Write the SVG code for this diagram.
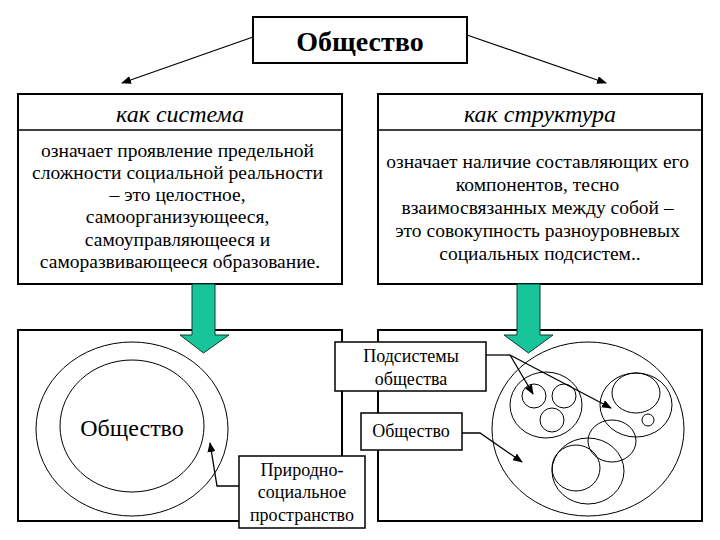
<svg xmlns="http://www.w3.org/2000/svg" width="720" height="540" viewBox="0 0 720 540">
<style>
text{font-family:'Liberation Serif','DejaVu Serif','Times New Roman',serif;fill:#000;text-anchor:middle}
.box{fill:#fff;stroke:#000;stroke-width:2}
.sbox{fill:#fff;stroke:#000;stroke-width:1.5}
.body{font-size:19.5px}
.hdr{font-size:24px;font-style:italic}
.lbl{font-size:18px}
.ln{fill:none;stroke:#000;stroke-width:1.3}
.c{fill:none;stroke:#000;stroke-width:1}
.green{fill:#18c49a;stroke:#0b3d30;stroke-width:1}
</style>
<defs>
<marker id="ah" markerWidth="10" markerHeight="8" refX="9" refY="4" orient="auto" markerUnits="userSpaceOnUse">
<path d="M0,0 L10,4 L0,8 z" fill="#000"/>
</marker>
</defs>
<rect width="720" height="540" fill="#fff"/>

<g id="society">
<rect class="box" x="253" y="17" width="214" height="46"/>
<text x="360" y="51" font-size="28" font-weight="bold">Общество</text>
</g>

<g id="system">
<rect class="box" x="18" y="94" width="324" height="190"/>
<line x1="18" y1="130" x2="342" y2="130" stroke="#000" stroke-width="1.5"/>
<text class="hdr" x="180" y="122">как система</text>
<text class="body">
<tspan x="180" y="157">означает проявление предельной</tspan>
<tspan x="180" y="179">сложности социальной реальности</tspan>
<tspan x="180" y="201">– это целостное,</tspan>
<tspan x="180" y="223">самоорганизующееся,</tspan>
<tspan x="180" y="246">самоуправляющееся и</tspan>
<tspan x="180" y="268">саморазвивающееся образование.</tspan>
</text>
</g>

<g id="structure">
<rect class="box" x="378" y="94" width="324" height="190"/>
<line x1="378" y1="130" x2="702" y2="130" stroke="#000" stroke-width="1.5"/>
<text class="hdr" x="540" y="122">как структура</text>
<text class="body">
<tspan x="540" y="168">означает наличие составляющих его</tspan>
<tspan x="540" y="191">компонентов, тесно</tspan>
<tspan x="540" y="214">взаимосвязанных между собой –</tspan>
<tspan x="540" y="237">это совокупность разноуровневых</tspan>
<tspan x="540" y="260">социальных подсистем..</tspan>
</text>
</g>

<g id="system-diagram">
<rect class="box" x="18" y="330" width="324" height="191"/>
<ellipse class="c" cx="132" cy="429" rx="96" ry="87"/>
<ellipse class="c" cx="132" cy="426" rx="72" ry="66"/>
<text x="132" y="436" font-size="24">Общество</text>
</g>

<g id="structure-diagram">
<rect class="box" x="378" y="330" width="324" height="191"/>
<ellipse class="c" cx="588" cy="429" rx="96" ry="87"/>
<ellipse class="c" cx="546" cy="405" rx="36" ry="33"/>
<circle class="c" cx="534" cy="396" r="12"/>
<circle class="c" cx="564" cy="396" r="12"/>
<circle class="c" cx="552" cy="420" r="12"/>
<ellipse class="c" cx="636" cy="405" rx="36" ry="32"/>
<ellipse class="c" cx="636" cy="393" rx="24" ry="20"/>
<circle class="c" cx="648" cy="420" r="6"/>
<ellipse class="c" cx="612" cy="441" rx="24" ry="21"/>
<ellipse class="c" cx="588" cy="471" rx="36" ry="33"/>
<ellipse class="c" cx="576" cy="468" rx="24" ry="23"/>
</g>

<g id="arrow-left-green">
<path class="green" d="M192,284 L215,284 L215,335 L229,335 L203.5,353 L180,335 L192,335 Z"/>
</g>
<g id="arrow-right-green">
<path class="green" d="M517,284 L540,284 L540,335 L553,335 L528.5,353 L504,335 L517,335 Z"/>
</g>

<g id="subsystems-label">
<rect class="sbox" x="335" y="342" width="151" height="49"/>
<text class="lbl"><tspan x="411" y="362">Подсистемы</tspan><tspan x="411" y="385">общества</tspan></text>
</g>

<g id="society-label">
<rect class="sbox" x="361" y="413" width="101" height="37"/>
<text class="lbl" x="411" y="437">Общество</text>
</g>

<g id="space-label">
<rect class="sbox" x="239" y="456" width="126" height="72"/>
<text class="lbl"><tspan x="302" y="476">Природно-</tspan><tspan x="302" y="498">социальное</tspan><tspan x="302" y="521">пространство</tspan></text>
</g>

<g id="connectors">
<line class="ln" x1="253" y1="37" x2="122" y2="83" marker-end="url(#ah)"/>
<line class="ln" x1="467" y1="35" x2="606" y2="83" marker-end="url(#ah)"/>
<polyline class="ln" points="239,486 217,486 210,443" marker-end="url(#ah)"/>
<line class="ln" x1="486" y1="355" x2="510" y2="355"/>
<line class="ln" x1="510" y1="355" x2="533" y2="394" marker-end="url(#ah)"/>
<line class="ln" x1="510" y1="355" x2="611" y2="408" marker-end="url(#ah)"/>
<polyline class="ln" points="462,433 480,433 522,462" marker-end="url(#ah)"/>
</g>
</svg>
